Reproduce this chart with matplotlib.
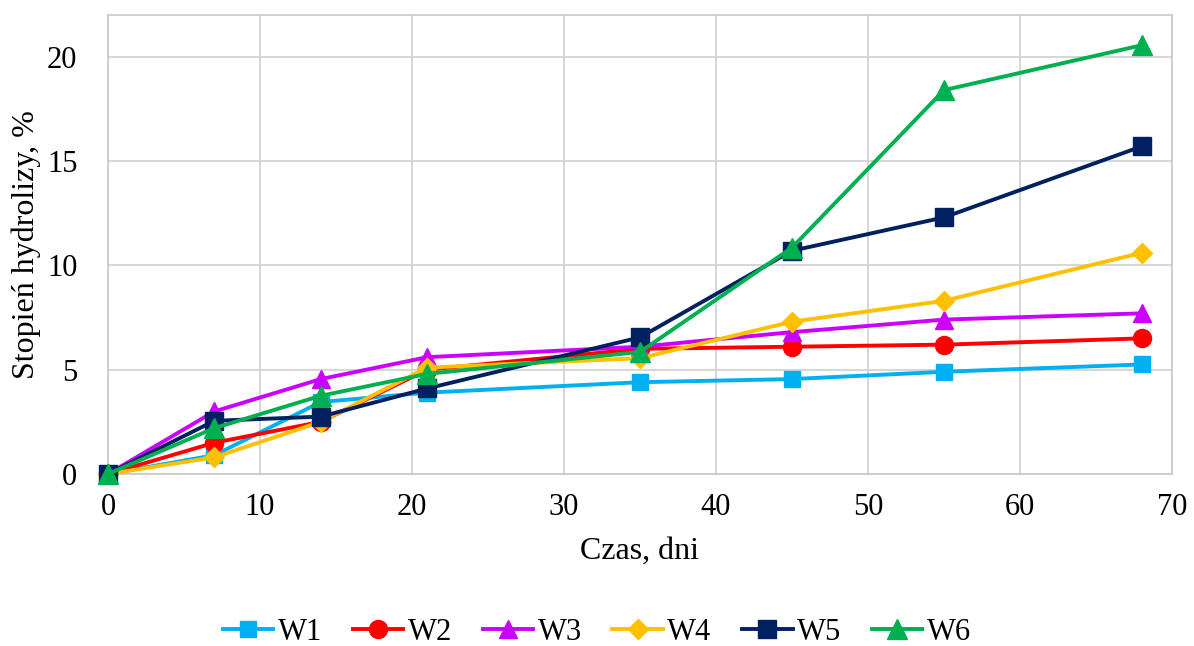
import matplotlib
matplotlib.use("Agg")
import matplotlib.pyplot as plt

plt.rcParams['font.family'] = ['Liberation Serif', 'DejaVu Serif']

days = [0, 7, 14, 21, 35, 45, 55, 68]
w1 = [0, 0.9, 3.45, 3.9, 4.4, 4.55, 4.9, 5.25]
w2 = [0, 1.5, 2.5, 5.0, 6.0, 6.1, 6.2, 6.5]
w3 = [0, 3.0, 4.55, 5.6, 6.1, 6.8, 7.4, 7.7]
w4 = [0, 0.8, 2.5, 5.1, 5.55, 7.3, 8.3, 10.6]
w5 = [0, 2.55, 2.75, 4.1, 6.55, 10.7, 12.3, 15.7]
w6 = [0, 2.2, 3.75, 4.8, 5.85, 10.85, 18.4, 20.55]

series = [
    ("W1", w1, "#00b0f0", "s", 12),
    ("W2", w2, "#ff0000", "o", 13),
    ("W3", w3, "#cc00ff", "^", 13),
    ("W4", w4, "#ffc000", "D", 10),
    ("W5", w5, "#002060", "s", 13),
    ("W6", w6, "#00b050", "^", 14),
]

fig = plt.figure(figsize=(11.94, 6.46), dpi=100)
ax = fig.add_axes([108/1194, 1 - 474/646, (1172-108)/1194, (474-15)/646])

for name, vals, color, marker, ms in series:
    ax.plot(days, vals, color=color, marker=marker, markersize=ms, linewidth=2.8,
            label=name, clip_on=False, zorder=3)

ax.set_xlim(0, 70)
ax.set_ylim(0, 22)
ax.set_xticks(range(0, 71, 10))
ax.set_yticks(range(0, 21, 5))
ax.grid(True, color="#d0d0d0", linewidth=1.2)
ax.set_axisbelow(True)
for s in ax.spines.values():
    s.set_color("#c8c8c8")
    s.set_linewidth(1.2)
ax.tick_params(axis='x', labelsize=22, length=0, pad=14)
ax.tick_params(axis='y', labelsize=22, length=0, pad=22)
ax.set_xlabel("Czas, dni", fontsize=23, labelpad=10)
ax.set_ylabel("Stopień hydrolizy, %", fontsize=23, labelpad=4)

handles, labels = ax.get_legend_handles_labels()
fig.legend(handles, labels, loc="center", bbox_to_anchor=(0.5, 1 - 632 / 646), ncol=6,
           frameon=False, fontsize=22, handlelength=1.65, handletextpad=0.15,
           columnspacing=1.0, borderaxespad=0)

fig.savefig("out.png", dpi=100)
